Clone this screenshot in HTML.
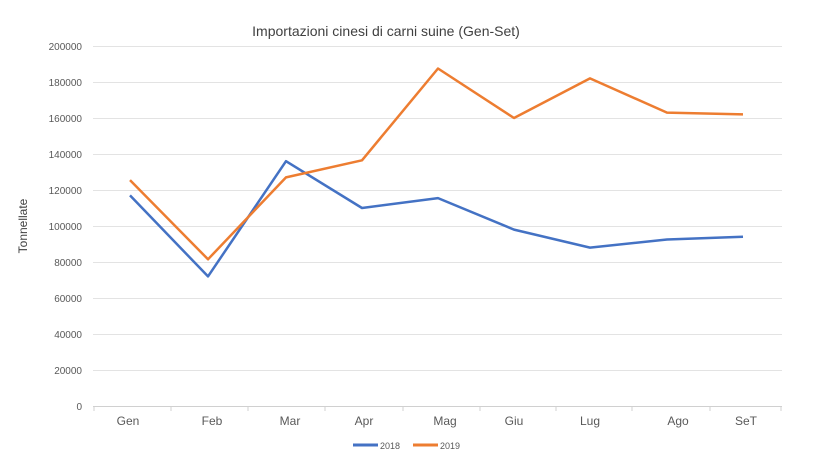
<!DOCTYPE html>
<html><head><meta charset="utf-8"><style>body{margin:0;background:#fff}svg{display:block}</style></head>
<body>
<svg width="820" height="461" xmlns="http://www.w3.org/2000/svg" font-family="Liberation Sans, sans-serif">
<rect width="820" height="461" fill="#fff"/>
<text x="386" y="36" font-size="14" fill="#404040" text-anchor="middle">Importazioni cinesi di carni suine (Gen-Set)</text>
<g stroke="#e3e3e3" stroke-width="1">
<line x1="93" x2="782" y1="46.5" y2="46.5"/><line x1="93" x2="782" y1="82.5" y2="82.5"/><line x1="93" x2="782" y1="118.5" y2="118.5"/><line x1="93" x2="782" y1="154.5" y2="154.5"/><line x1="93" x2="782" y1="190.5" y2="190.5"/><line x1="93" x2="782" y1="226.5" y2="226.5"/><line x1="93" x2="782" y1="262.5" y2="262.5"/><line x1="93" x2="782" y1="298.5" y2="298.5"/><line x1="93" x2="782" y1="334.5" y2="334.5"/><line x1="93" x2="782" y1="370.5" y2="370.5"/>
</g>
<line x1="93" x2="782" y1="406.5" y2="406.5" stroke="#d0d0d0"/>
<g stroke="#d0d0d0"><line x1="94" x2="94" y1="406" y2="411"/><line x1="171" x2="171" y1="406" y2="411"/><line x1="248" x2="248" y1="406" y2="411"/><line x1="325" x2="325" y1="406" y2="411"/><line x1="403" x2="403" y1="406" y2="411"/><line x1="480" x2="480" y1="406" y2="411"/><line x1="556" x2="556" y1="406" y2="411"/><line x1="632" x2="632" y1="406" y2="411"/><line x1="710" x2="710" y1="406" y2="411"/><line x1="781" x2="781" y1="406" y2="411"/></g>
<g font-size="10" fill="#595959" text-anchor="end">
<text x="82" y="50">200000</text><text x="82" y="86">180000</text><text x="82" y="122">160000</text><text x="82" y="158">140000</text><text x="82" y="194">120000</text><text x="82" y="230">100000</text><text x="82" y="266">80000</text><text x="82" y="302">60000</text><text x="82" y="338">40000</text><text x="82" y="374">20000</text><text x="82" y="410">0</text>
</g>
<g font-size="12" fill="#595959" text-anchor="middle">
<text x="128" y="425">Gen</text><text x="212" y="425">Feb</text><text x="290" y="425">Mar</text><text x="364" y="425">Apr</text><text x="445" y="425">Mag</text><text x="514" y="425">Giu</text><text x="590" y="425">Lug</text><text x="678" y="425">Ago</text><text x="746" y="425">SeT</text>
</g>
<text transform="translate(27,226) rotate(-90)" font-size="12" fill="#404040" text-anchor="middle">Tonnellate</text>
<polyline fill="none" stroke="#4472c4" stroke-width="2.5" stroke-linejoin="round" points="130,195.4 208,276.4 286,161.2 362,208 438,198.1 514,229.6 590,247.6 667,239.5 743,236.8"/>
<polyline fill="none" stroke="#ed7d31" stroke-width="2.5" stroke-linejoin="round" points="130,180.1 208,259.3 286,177.4 362,160.3 438,68.5 514,118 590,78.4 667,112.6 743,114.4"/>
<line x1="353" x2="378" y1="445" y2="445" stroke="#4472c4" stroke-width="3"/>
<text x="380" y="449" font-size="9" fill="#595959">2018</text>
<line x1="413" x2="438" y1="445" y2="445" stroke="#ed7d31" stroke-width="3"/>
<text x="440" y="449" font-size="9" fill="#595959">2019</text>
</svg>
</body></html>
